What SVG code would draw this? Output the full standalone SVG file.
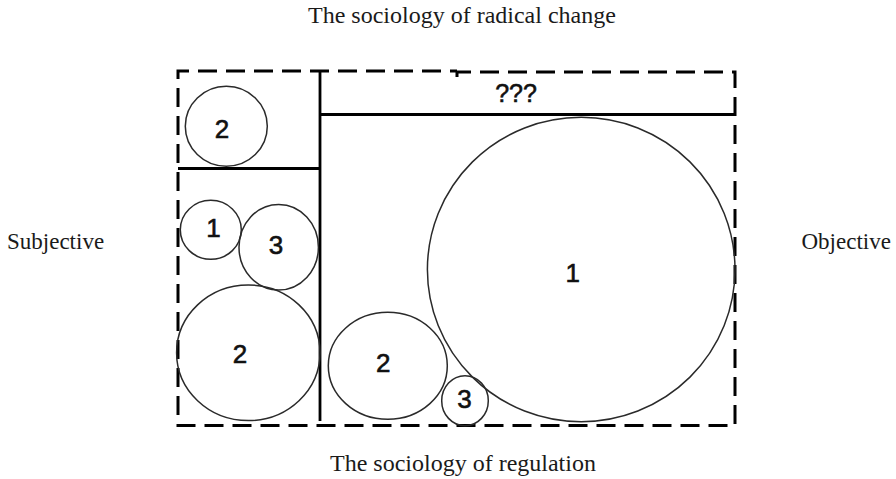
<svg xmlns="http://www.w3.org/2000/svg" width="896" height="479" viewBox="0 0 896 479">
<style>
  .lbl { font-family: "Liberation Serif", "Times New Roman", serif; font-size: 24px; fill: #1a1a1a; }
  .side { font-size: 23px; }
  .num { font-family: "Liberation Sans", Arial, sans-serif; font-size: 26px; fill: #111; stroke: #111; stroke-width: 0.6; text-anchor: middle; }
  .c { fill: none; stroke: #2a2a2a; stroke-width: 1.5; }
  .solid { fill: none; stroke: #000; stroke-width: 2.8; }
  .dash { fill: none; stroke: #000; stroke-width: 3; stroke-dasharray: 19 9; }
</style>
<rect width="896" height="479" fill="#fff"/>
<text class="lbl" x="308" y="23">The sociology of radical change</text>
<text class="lbl" x="330" y="471">The sociology of regulation</text>
<text class="lbl side" x="7" y="249">Subjective</text>
<text class="lbl side" x="801.5" y="249">Objective</text>
<g id="frame">
  <path class="dash" d="M457 77 V72 H735 V425.5 H178 V71 H457"/>
</g>
<g id="dividers">
  <line class="solid" x1="320" y1="70" x2="320" y2="421"/>
  <line class="solid" x1="178" y1="168.5" x2="320" y2="168.5"/>
  <line class="solid" x1="320" y1="114.5" x2="735" y2="114.5"/>
  <text class="num" x="516" y="102" style="font-size:25px">???</text>
</g>
<g id="circle-tl-2">
  <ellipse class="c" cx="226.3" cy="126.3" rx="41" ry="40"/>
  <text class="num" x="222" y="138">2</text>
</g>
<g id="circle-ml-1">
  <ellipse class="c" cx="210.8" cy="229.8" rx="30.5" ry="29.5"/>
  <text class="num" x="213.5" y="237">1</text>
</g>
<g id="circle-ml-3">
  <ellipse class="c" cx="278.7" cy="247.2" rx="39.7" ry="42.8"/>
  <text class="num" x="276" y="254">3</text>
</g>
<g id="circle-bl-2">
  <ellipse class="c" cx="248.3" cy="352.8" rx="71.7" ry="67.8"/>
  <text class="num" x="240" y="363">2</text>
</g>
<g id="circle-bm-2">
  <ellipse class="c" cx="387.8" cy="365.8" rx="59.5" ry="53.5"/>
  <text class="num" x="383.3" y="372">2</text>
</g>
<g id="circle-bm-3">
  <ellipse class="c" cx="465" cy="400.7" rx="23.3" ry="25"/>
  <text class="num" x="464.5" y="407.5">3</text>
</g>
<g id="circle-big-1">
  <ellipse class="c" cx="581.2" cy="269.5" rx="153.8" ry="152.2"/>
  <text class="num" x="572.7" y="282">1</text>
</g>
</svg>
